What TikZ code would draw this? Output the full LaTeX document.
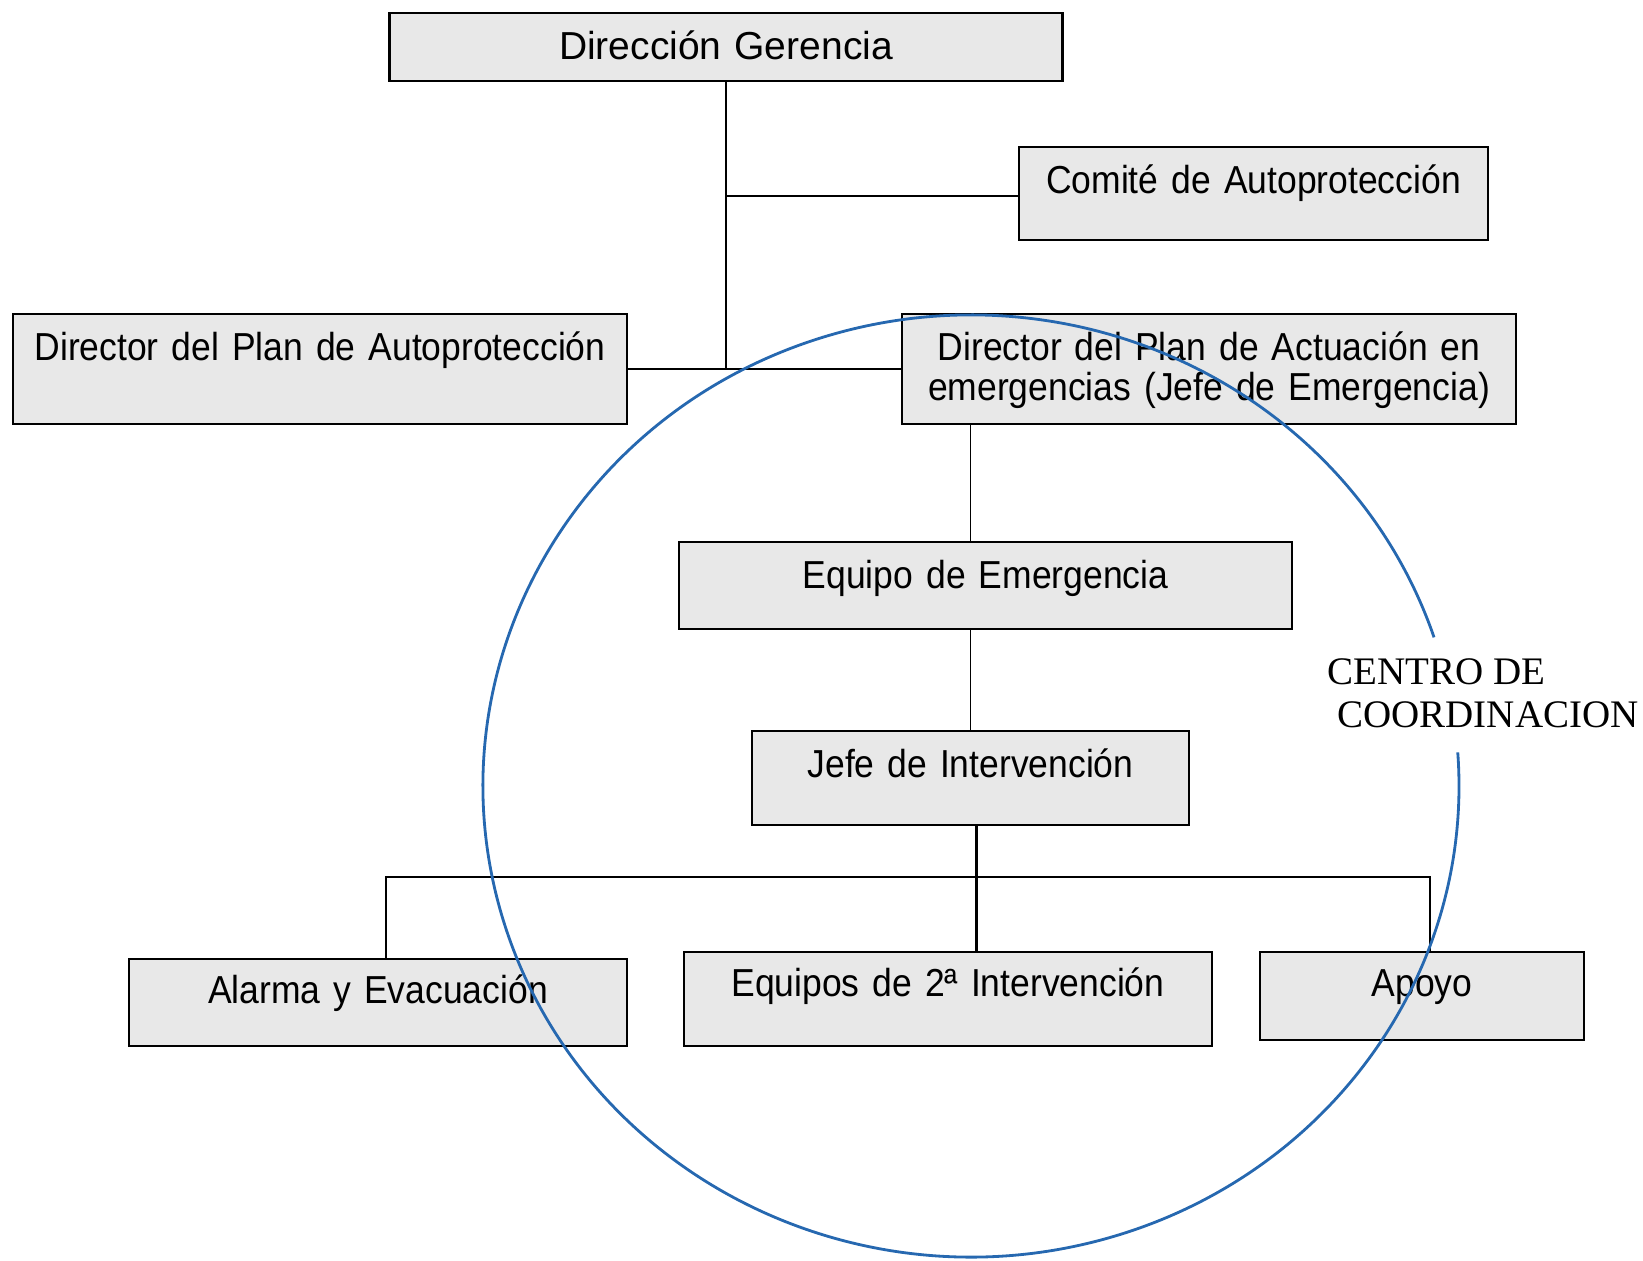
\documentclass[tikz,border=0pt]{standalone}
\usepackage{fontspec}
\setmainfont[FakeStretch=0.91]{Liberation Sans}
\newfontfamily\letraancha{Liberation Sans}
\newfontfamily\letraserif{Liberation Serif}
\usepackage{tikz}
\usetikzlibrary{arrows,shapes,positioning}
\definecolor{grisclaro}{RGB}{232,232,232}
\definecolor{azulcirculo}{RGB}{38,104,176}

\begin{document}
\begin{tikzpicture}[node distance=2cm, auto,
  caja/.style={draw, rectangle, fill=grisclaro, line width=1.6pt, inner sep=0pt, align=center,
    text height=0.92cm, font=\fontsize{22.2}{22.8}\selectfont},
  linea/.style={line width=1.2pt},
  fina/.style={line width=0.8pt},
  circulo/.style={draw=azulcirculo, line width=1.6pt}]
\useasboundingbox (0,0) rectangle (32.86,-25.2);

% Direccion
\node[caja, text width=13.46cm, text depth=0.44cm, font=\letraancha\fontsize{22.2}{22.8}\selectfont] (gerencia) at (14.52,-0.94)
{Dirección Gerencia};
\node[caja, text width=9.38cm, text depth=0.94cm, below of=gerencia, node distance=2.93cm, xshift=10.55cm] (comite)
{Comité de Autoprotección};

% Directores
\node[caja, text width=12.28cm, text depth=1.28cm, below of=gerencia, node distance=6.44cm, xshift=-8.12cm] (dpa)
{Director del Plan de Autoprotección};
\node[caja, text width=12.28cm, text depth=1.28cm, below of=gerencia, node distance=6.44cm, xshift=9.66cm] (dpact)
{Director del Plan de Actuación en\\emergencias (Jefe de Emergencia)};

% Equipos
\node[caja, text width=12.26cm, text depth=0.82cm, below of=dpact, node distance=4.33cm, xshift=-4.47cm] (equipo)
{Equipo de Emergencia};
\node[caja, text width=8.74cm, text depth=0.96cm, below of=equipo, node distance=3.85cm, xshift=-0.3cm] (jefe)
{Jefe de Intervención};
\node[caja, text width=10.56cm, text height=0.88cm, text depth=1.0cm, below of=jefe, node distance=4.42cm, xshift=-0.45cm] (equipos)
{Equipos de 2ª Intervención};
\node[caja, text width=9.96cm, text height=0.88cm, text depth=0.86cm, left of=equipos, node distance=11.4cm, yshift=-0.07cm] (alarma)
{Alarma y Evacuación};
\node[caja, text width=6.48cm, text height=0.88cm, text depth=0.88cm, right of=equipos, node distance=9.48cm, yshift=0.06cm] (apoyo)
{Apoyo};

% Centro de coordinacion
\node[anchor=north west, inner sep=0pt, align=left, font=\letraserif\fontsize{22.2}{24.5}\selectfont] (centro) at (26.54,-13.16)
{CENTRO DE\\\hspace*{0.2cm}COORDINACION};

% Lineas
\draw[linea] (gerencia.south) -- (gerencia.south |- dpa.east);
\draw[linea] ([yshift=-0.05cm]comite.west) -- ([yshift=-0.05cm]comite.west -| gerencia.south);
\draw[linea] (dpa.east) -- (dpact.west);
\draw[fina] (dpact.south -| jefe.north) -- (equipo.north -| jefe.north);
\draw[fina] (equipo.south -| jefe.north) -- (jefe.north);
\draw[linea] ([xshift=0.12cm]jefe.south) -- ([xshift=0.12cm]jefe.south |- equipos.north);
\draw[linea] ([xshift=0.16cm]alarma.north) -- ++(0,1.62) -| ([xshift=0.16cm]apoyo.north);

% Circulo
\coordinate (centrocirc) at (19.42,-15.72);
\draw[circulo] (centrocirc) ++(18.4:9.76cm and 9.42cm)
  arc[start angle=18.4, end angle=364.1, x radius=9.76cm, y radius=9.42cm];
\end{tikzpicture}
\end{document}
